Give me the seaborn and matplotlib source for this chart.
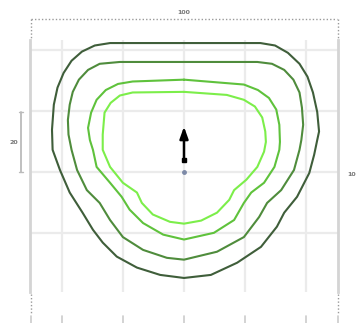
import numpy as np
import pandas as pd
import matplotlib
matplotlib.use("Agg")
import matplotlib.pyplot as plt
from matplotlib.lines import Line2D
import seaborn as sns

# ---- data (1 unit = one grid cell) ----
c1_x = [0, 0.62, 1.25, 1.49, 1.70, 1.89, 2.02, 2.11, 2.18, 2.21, 2.18, 2.13, 2.05, 1.85, 1.64, 1.52, 1.26,
        0.87, 0.44, 0, -0.39, -0.77, -1.10, -1.33, -1.49, -1.66, -1.87, -2.03, -2.15, -2.16, -2.13, -2.07,
        -1.97, -1.84, -1.67, -1.46, -1.21, -0.61]
c1_y = [2.11, 2.11, 2.11, 2.07, 1.95, 1.77, 1.56, 1.30, 0.98, 0.66, 0.52, 0.28, -0.02, -0.41, -0.67, -0.90,
        -1.23, -1.49, -1.69, -1.74, -1.69, -1.57, -1.39, -1.16, -0.95, -0.67, -0.34, 0.03, 0.36, 0.69, 1.10,
        1.38, 1.62, 1.82, 1.97, 2.07, 2.11, 2.11]

c2_x = [0, 1.20, 1.44, 1.64, 1.79, 1.89, 1.93, 1.95, 1.92, 1.89, 1.80, 1.59, 1.36, 1.23, 0.98, 0.54,
        0, -0.28, -0.67, -1.00, -1.21, -1.38, -1.59, -1.75, -1.84, -1.89, -1.90, -1.87, -1.82, -1.72,
        -1.57, -1.38, -1.05]
c2_y = [1.80, 1.80, 1.77, 1.67, 1.51, 1.30, 1.05, 0.77, 0.52, 0.36, 0.03, -0.30, -0.51, -0.74, -1.07, -1.31,
        -1.44, -1.41, -1.28, -1.07, -0.79, -0.51, -0.30, 0.03, 0.36, 0.61, 0.85, 1.10, 1.31, 1.51,
        1.67, 1.77, 1.80]

c3_x = [0, 0.98, 1.21, 1.39, 1.51, 1.56, 1.57, 1.56, 1.48, 1.31, 1.10, 0.98, 0.82, 0.49,
        0, -0.34, -0.67, -0.89, -1.02, -1.21, -1.43, -1.49, -1.54, -1.57, -1.52, -1.43, -1.28, -1.08, -0.84]
c3_y = [1.51, 1.43, 1.34, 1.21, 1.02, 0.77, 0.49, 0.36, 0.08, -0.18, -0.34, -0.51, -0.79, -1.00,
        -1.11, -1.03, -0.84, -0.62, -0.41, -0.18, 0.08, 0.36, 0.52, 0.72, 0.97, 1.18, 1.34, 1.44, 1.48]

c4_x = [0, 0.70, 0.98, 1.16, 1.28, 1.33, 1.34, 1.31, 1.20, 1.02, 0.82, 0.74, 0.54, 0.28,
        0, -0.23, -0.51, -0.69, -0.77, -1.00, -1.21, -1.33, -1.33, -1.31, -1.30, -1.20, -1.05, -0.84]
c4_y = [1.31, 1.26, 1.18, 1.07, 0.89, 0.66, 0.49, 0.33, 0.08, -0.13, -0.30, -0.46, -0.67, -0.80,
        -0.85, -0.82, -0.70, -0.51, -0.34, -0.18, 0.08, 0.36, 0.61, 0.85, 0.97, 1.13, 1.25, 1.30]

levels = ["c1", "c2", "c3", "c4"]
colors = ["#3f5e3a", "#4f8c3c", "#5fc23c", "#7cee4a"]

arrow_x = [0.0]
arrow_y0 = [0.20]
arrow_y1 = [0.74]
center_x = [0.0]
center_y = [0.0]

label_top = "100"
label_left = "20"
label_right = "10"

# ---- build table ----
frames = []
for name, xs, ys in [("c1", c1_x, c1_y), ("c2", c2_x, c2_y), ("c3", c3_x, c3_y), ("c4", c4_x, c4_y)]:
    xs_c = list(xs) + [xs[0]]
    ys_c = list(ys) + [ys[0]]
    frames.append(pd.DataFrame({"x": xs_c, "y": ys_c, "level": name}))
df = pd.concat(frames, ignore_index=True)

sns.set_style("white")
W, H = 357, 323
fig = plt.figure(figsize=(W / 100, H / 100), dpi=100)
ax = fig.add_axes([30 / W, 1 - 292 / H, (338 - 30) / W, (292 - 40) / H])

ax.set_xlim(-2.52, 2.52)
ax.set_ylim(-1.97, 2.16)
ax.set_xticks([-2, -1, 0, 1, 2])
ax.set_yticks([-1, 0, 1, 2])
ax.tick_params(length=0, labelbottom=False, labelleft=False)
ax.grid(True, color="#ebebeb", linewidth=1.6)
ax.set_axisbelow(True)
for s in ["top", "bottom"]:
    ax.spines[s].set_visible(False)
for s in ["left", "right"]:
    ax.spines[s].set_color("#d4d4d4")
    ax.spines[s].set_linewidth(2.0)

sns.lineplot(data=df, x="x", y="y", hue="level", units="level", sort=False,
             estimator=None, palette=dict(zip(levels, colors)), hue_order=levels,
             linewidth=1.5, legend=False, ax=ax)
for ln in ax.get_lines():
    ln.set_solid_joinstyle("round")
    ln.set_solid_capstyle("round")
ax.set_xlabel("")
ax.set_ylabel("")

# arrow and center point
ax.annotate("", xy=(arrow_x[0], arrow_y1[0]), xytext=(arrow_x[0], arrow_y0[0]),
            arrowprops=dict(arrowstyle="-|>,head_length=0.7,head_width=0.25", color="black", lw=1.8,
                            shrinkA=0, shrinkB=0))
ax.plot(arrow_x, arrow_y0, marker="s", color="black", markersize=3.5, linestyle="none")
ax.plot(center_x, center_y, marker="o", color="#7d8aa8", markersize=2.5, linestyle="none")

# ---- figure decorations ----
def fx(px):
    return px / W

def fy(py):
    return 1 - py / H

dot = dict(color="#9a9a9a", linewidth=1.0, linestyle=(0, (1, 1.5)))
fig.add_artist(Line2D([fx(31), fx(337)], [fy(19), fy(19)], **dot))
fig.add_artist(Line2D([fx(31), fx(31)], [fy(19), fy(38)], **dot))
fig.add_artist(Line2D([fx(338), fx(338)], [fy(19), fy(38)], **dot))
fig.add_artist(Line2D([fx(31), fx(31)], [fy(294), fy(313)], **dot))
fig.add_artist(Line2D([fx(338), fx(338)], [fy(294), fy(313)], **dot))
for px in [31, 62, 123, 184, 245, 306, 338]:
    fig.add_artist(Line2D([fx(px), fx(px)], [fy(316), fy(323)], color="#cccccc", linewidth=1.2))

# scale bar on the left
fig.add_artist(Line2D([fx(21), fx(21)], [fy(112), fy(172)], color="#bbbbbb", linewidth=1.3))
fig.add_artist(Line2D([fx(19), fx(23)], [fy(112), fy(112)], color="#bbbbbb", linewidth=1.0))
fig.add_artist(Line2D([fx(19), fx(23)], [fy(172), fy(172)], color="#bbbbbb", linewidth=1.0))

fig.text(fx(184), fy(12), label_top, ha="center", va="center", fontsize=4.5, color="#777777",
         fontweight="bold")
fig.text(fx(14), fy(142), label_left, ha="center", va="center", fontsize=4.5, color="#777777",
         fontweight="bold")
fig.text(fx(352), fy(174), label_right, ha="center", va="center", fontsize=4.5, color="#777777",
         fontweight="bold")

fig.savefig("out.png", dpi=100)
